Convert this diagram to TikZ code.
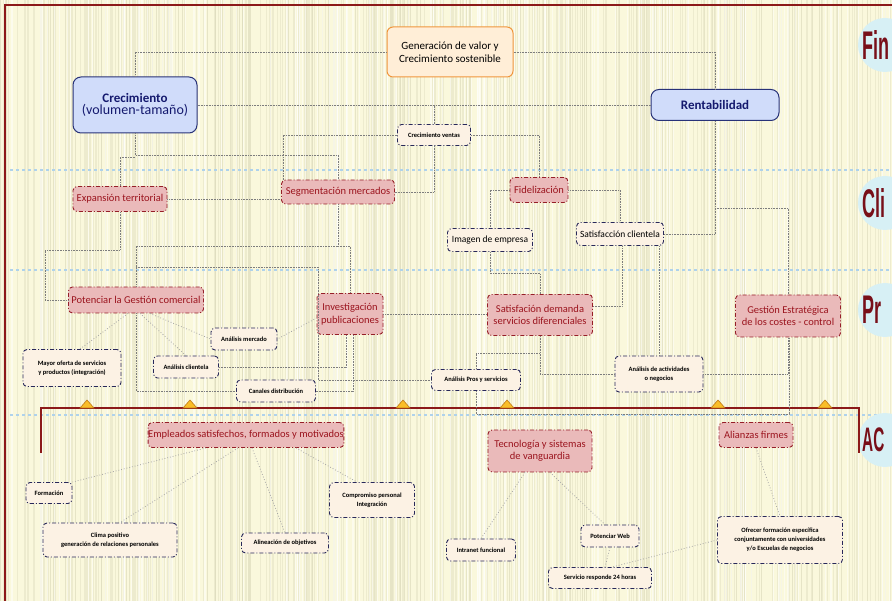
\documentclass[tikz,border=0pt]{standalone}
\usepackage{fontspec}
\setmainfont{Carlito}
\newfontfamily\tabfont{Liberation Sans}
\usetikzlibrary{shapes.geometric}

\definecolor{bgcream}{RGB}{250,248,220}
\definecolor{streak}{RGB}{222,220,190}
\definecolor{framered}{RGB}{140,25,25}
\definecolor{sepblue}{RGB}{175,210,235}
\definecolor{genborder}{RGB}{240,150,60}
\definecolor{genfill}{RGB}{255,238,215}
\definecolor{kpiborder}{RGB}{40,50,120}
\definecolor{kpifill}{RGB}{208,220,250}
\definecolor{kpitext}{RGB}{20,25,110}
\definecolor{objborder}{RGB}{150,30,40}
\definecolor{objfill}{RGB}{234,186,186}
\definecolor{objtext}{RGB}{155,20,30}
\definecolor{actborder}{RGB}{40,40,90}
\definecolor{actfill}{RGB}{252,242,228}
\definecolor{linkgray}{RGB}{125,125,125}
\definecolor{diaggray}{RGB}{165,165,165}
\definecolor{tribody}{RGB}{250,190,40}
\definecolor{triedge}{RGB}{190,120,20}
\definecolor{tabcircle}{RGB}{215,240,245}
\definecolor{tabtext}{RGB}{120,15,25}

\tikzset{
  goalbox/.style={draw=genborder, fill=genfill, line width=1pt, rounded corners=6pt,
    inner sep=0pt, align=center, font=\fontsize{11}{13}\selectfont},
  kpibox/.style={draw=kpiborder, fill=kpifill, line width=1pt, rounded corners=8pt,
    inner sep=0pt, align=center, text=kpitext},
  objbox/.style={draw=objborder, fill=objfill, line width=0.9pt, rounded corners=4pt,
    dash pattern=on 4pt off 2pt on 1pt off 2pt, inner sep=0pt, align=center,
    text=objtext, font=\fontsize{10.5}{12.5}\selectfont},
  actbox/.style={draw=actborder, fill=actfill, line width=0.9pt, rounded corners=4pt,
    dash pattern=on 4pt off 2pt on 1pt off 2pt, inner sep=0pt, align=center,
    text=black, font=\bfseries\fontsize{6.5}{9}\selectfont},
  actbig/.style={actbox, font=\fontsize{9.5}{11}\selectfont},
  link/.style={draw=linkgray, densely dotted, line width=0.6pt},
  diag/.style={draw=diaggray, dotted, line width=0.8pt},
  timeline/.style={draw=framered, line width=2.4pt},
  marker/.style={fill=tribody, draw=triedge, line width=0.6pt},
  sep/.style={draw=sepblue, dashed, line width=1.2pt},
  tabdisc/.style={fill=tabcircle, draw=none},
  tablabel/.style={text=tabtext, anchor=west, inner sep=0pt},
}

\begin{document}
\begin{tikzpicture}[x=1pt,y=-1pt]
  % canvas and paper texture
  \useasboundingbox (0,0) rectangle (892,601);
  \fill[bgcream] (0,0) rectangle (892,601);
  \pgfmathsetseed{7}
  \foreach \i in {1,...,420}{
    \pgfmathsetmacro{\xx}{892*rnd}
    \pgfmathsetmacro{\ww}{0.2+0.9*rnd}
    \draw[streak, opacity=0.45, line width=\ww pt] (\xx,0) -- (\xx,601);
  }
  \foreach \i in {1,...,160}{
    \pgfmathsetmacro{\xx}{892*rnd}
    \pgfmathsetmacro{\ww}{0.3+1.2*rnd}
    \draw[white, opacity=0.5, line width=\ww pt] (\xx,0) -- (\xx,601);
  }

  % perspective separators
  \draw[sep] (10,170) -- (892,170);
  \draw[sep] (10,270) -- (892,270);
  \draw[sep] (10,415) -- (892,415);

  % frame
  \draw[framered, line width=2pt] (5,601) -- (5,5) -- (892,5);

  % perspective tabs on the right
  \foreach \ty/\tt/\fs in {45/Fin/40, 203/Cli/40, 310/Pr/40, 440/AC/34}{
    \fill[tabdisc] (885,\ty) circle (27);
    \node[tablabel, font=\tabfont\bfseries\fontsize{\fs}{\fs}\selectfont]
      at (862,\ty) {\scalebox{0.45}[1]{\tt}};
  }

  % learning and growth timeline
  \draw[timeline] (41,453) -- (41,408) -- (859,408) -- (859,453);
  \foreach \tx in {87,190,403,507,718,825}{
    \draw[marker] (\tx-7,408) -- (\tx,400) -- (\tx+7,408) -- cycle;
  }

  % ---- nodes ----
  \node[goalbox, minimum width=126pt, minimum height=50pt] (gen) at (450,52)
    {Generación de valor y\\Crecimiento sostenible};
  \node[kpibox, minimum width=124pt, minimum height=56pt] (cre) at (135,105)
    {{\bfseries\fontsize{13}{15}\selectfont Crecimiento}\\{\fontsize{14}{16}\selectfont (volumen-tamaño)}};
  \node[kpibox, minimum width=128pt, minimum height=31pt, font=\bfseries\fontsize{13}{15}\selectfont]
    (ren) at (715,105) {Rentabilidad};

  \node[actbox, minimum width=73pt, minimum height=21pt] (cv) at (434,135) {Crecimiento ventas};

  \node[objbox, minimum width=94pt, minimum height=25pt] (exp) at (120,199) {Expansión territorial};
  \node[objbox, minimum width=113pt, minimum height=24pt] (seg) at (338,192) {Segmentación mercados};
  \node[objbox, minimum width=58pt, minimum height=25pt] (fid) at (539,190) {Fidelización};
  \node[actbig, minimum width=85pt, minimum height=23pt] (img) at (490,240) {Imagen de empresa};
  \node[actbig, minimum width=87pt, minimum height=23pt] (scl) at (620,234) {Satisfacción clientela};

  \node[objbox, minimum width=135pt, minimum height=26pt] (pot) at (136,300) {Potenciar la Gestión comercial};
  \node[objbox, minimum width=66pt, minimum height=41pt] (inv) at (350,314) {Investigación\\publicaciones};
  \node[objbox, minimum width=105pt, minimum height=41pt] (sd) at (540,315) {Satisfación demanda\\servicios diferenciales};
  \node[objbox, minimum width=105pt, minimum height=42pt] (gest) at (788,316) {Gestión Estratégica\\de los costes - control};

  \node[actbox, minimum width=66pt, minimum height=22pt] (amer) at (244,339) {Análisis mercado};
  \node[actbox, minimum width=65pt, minimum height=22pt] (acli) at (186,367) {Análisis clientela};
  \node[actbox, minimum width=79pt, minimum height=22pt] (can) at (276,391) {Canales distribución};
  \node[actbox, minimum width=98pt, minimum height=37pt] (may) at (72,368)
    {Mayor oferta de servicios\\y productos (integración)};
  \node[actbox, minimum width=89pt, minimum height=21pt] (apros) at (476,380) {Análisis Pros y servicios};
  \node[actbox, minimum width=88pt, minimum height=36pt] (aact) at (659,374) {Análisis de actividades\\o negocios};

  \node[objbox, minimum width=195pt, minimum height=25pt] (emp) at (246,435)
    {Empleados satisfechos, formados y motivados};
  \node[objbox, minimum width=104pt, minimum height=42pt] (tec) at (540,451) {Tecnología y sistemas\\de vanguardia};
  \node[objbox, minimum width=74pt, minimum height=25pt] (ali) at (756,435) {Alianzas firmes};

  \node[actbox, minimum width=46pt, minimum height=21pt] (form) at (49,493) {Formación};
  \node[actbox, minimum width=134pt, minimum height=34pt] (clim) at (110,540)
    {Clima positivo\\generación de relaciones personales};
  \node[actbox, minimum width=87pt, minimum height=20pt] (alin) at (285,543) {Alineación de objetivos};
  \node[actbox, minimum width=85pt, minimum height=35pt] (comp) at (372,500) {Compromiso personal\\Integración};

  \node[actbox, minimum width=69pt, minimum height=22pt] (intra) at (481,550) {Intranet funcional};
  \node[actbox, minimum width=58pt, minimum height=22pt] (pweb) at (610,536) {Potenciar Web};
  \node[actbox, minimum width=103pt, minimum height=21pt] (serv) at (600,578) {Servicio responde 24 horas};
  \node[actbox, minimum width=125pt, minimum height=47pt] (ofr) at (780,540)
    {Ofrecer formación específica\\conjuntamente con universidades\\y/o Escuelas de negocios};

  % ---- junctions ----
  \coordinate (j1) at (135,155);
  \coordinate (j2) at (338,246);
  \coordinate (j3) at (136,267);
  \coordinate (j4) at (715,208);
  \coordinate (j5) at (45,250);

  % ---- orthogonal links ----
  \draw[link] (gen.west) -| (cre.north);
  \draw[link] (gen.east) -| (ren.north);
  \draw[link] (cre.east) -- (ren.west);
  \draw[link] (cv.north) -- (cv.north |- cre.east);
  \draw[link] (cv.west) -| ([xshift=-55pt]seg.north);
  \draw[link] (cv.south) |- (seg.east);
  \draw[link] (cv.east) -| (fid.north);
  \draw[link] (cre.south) -- (j1) -| (seg.north);
  \draw[link] ([yshift=-2pt]j1) -| (exp.north);
  \draw[link] (exp.east) -- (exp.east -| seg.west);
  \draw[link] (exp.south) |- (j5) |- (pot.west);
  \draw[link] (seg.south) |- (pot.north |- j2) -- (pot.north);
  \draw[link] (j2) -| (inv.north);
  \draw[link] (j3) -| ([xshift=-113pt]apros.west) |- (apros.west);
  \draw[link] (pot.south) |- (can.west);
  \draw[link] ([xshift=-4pt]inv.south) |- (acli.east);
  \draw[link] ([xshift=3pt]inv.south) |- (can.east);
  \draw[link] (inv.east) -- (inv.east -| sd.west);
  \draw[link] (fid.west) -| (img.north);
  \draw[link] (fid.east) -| (scl.north);
  \draw[link] (img.south) -- ++(0,21) -| (sd.north);
  \draw[link] (scl.east) -| (ren.south);
  \draw[link] (j4) -| (gest.north);
  \draw[link] ([yshift=9pt]sd.east) -| ([xshift=2pt]scl.south);
  \draw[link] (aact.north) -- (aact.north |- scl.south);
  \draw[link] (sd.south) -- ++(0,17) -| (apros.north);
  \draw[link] (sd.south) |- (aact.west);
  \draw[link] (aact.east) -| (gest.south);
  \draw[link] (apros.south) -- ++(0,23) -| ([xshift=1pt]gest.south);

  % ---- radial links ----
  \draw[diag] ([xshift=-8pt]pot.south) -- ([xshift=8pt]may.north);
  \draw[diag] ([xshift=4pt]pot.south) -- (acli.north);
  \draw[diag] ([xshift=14pt]pot.south) -- (amer.west);
  \draw[diag] ([yshift=-4pt]inv.west) -- (amer.east);
  \draw[diag] ([xshift=-40pt]emp.south) -- (form.north east);
  \draw[diag] ([xshift=-8pt]emp.south) -- ([xshift=10pt]clim.north);
  \draw[diag] ([xshift=6pt]emp.south) -- (alin.north);
  \draw[diag] ([xshift=50pt]emp.south) -- ([xshift=-15pt]comp.north);
  \draw[diag] ([xshift=-15pt]tec.south) -- (intra.north);
  \draw[diag] ([xshift=10pt]tec.south) -- ([xshift=-5pt]pweb.north);
  \draw[diag] (pweb.south) -- ([xshift=5pt]serv.north);
  \draw[diag] (ali.south) -- (ofr.north);
  \draw[diag] (ofr.west) -- ([xshift=12pt]serv.north);
\end{tikzpicture}
\end{document}
